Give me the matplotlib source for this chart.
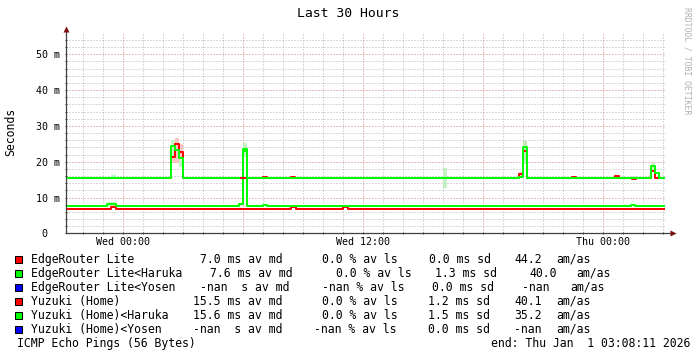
import numpy as np
import matplotlib
matplotlib.use('Agg')
import matplotlib.pyplot as plt
from matplotlib.ticker import MultipleLocator, FixedLocator, FixedFormatter
from matplotlib.patches import Rectangle

plt.rcParams['font.family'] = 'DejaVu Sans Mono'

# time axis in hours relative to Wed 00:00, values in ms
t_start, t_end = -2.864, 27.136
time_ticks = [0, 12, 24]
time_labels = ['Wed 00:00', 'Wed 12:00', 'Thu 00:00']
y_ticks = [0, 10, 20, 30, 40, 50]
y_labels = ['0  ', '10 m', '20 m', '30 m', '40 m', '50 m']

# median step lines (breakpoints / values)
erl_t = [-2.86, -0.6, -0.35, 8.4, 8.65, 11.0, 11.25, 27.03]
erl_v = [6.9, 7.4, 6.9, 7.4, 6.9, 7.4, 6.9, 6.9]

erl_har_t = [-2.86, -0.8, -0.35, 5.8, 6.0, 6.2, 7.0, 7.2, 25.4, 25.6, 27.03]
erl_har_v = [7.6, 8.2, 7.6, 8.2, 23.5, 7.6, 7.9, 7.6, 7.9, 7.6, 7.6]

yuz_t = [-2.86, 2.4, 2.6, 2.8, 3.0, 7.0, 7.2, 8.4, 8.6, 19.8, 20.0, 20.2,
         22.43, 22.65, 24.6, 24.8, 25.43, 25.64, 26.4, 26.6, 27.03]
yuz_v = [15.4, 21.3, 25.0, 22.6, 15.4, 15.6, 15.4, 15.7, 15.4, 16.5, 23.0, 15.4,
         15.6, 15.4, 15.95, 15.4, 15.1, 15.4, 17.4, 15.4, 15.4]

yuz_har_t = [-2.86, 2.4, 2.6, 2.8, 3.0, 5.8, 6.0, 6.2, 19.8, 20.0, 20.2,
             26.4, 26.6, 26.8, 27.03]
yuz_har_v = [15.4, 24.3, 23.4, 21.0, 15.4, np.nan, 23.0, 15.4, 15.8, 24.2, 15.4,
             18.7, 16.8, 15.4, 15.4]

# smoke (t0, t1, lo, hi)
red_smoke = [(2.4, 2.6, 19.5, 21.3), (2.6, 2.8, 19.7, 26.6), (2.8, 3.0, 20.5, 25.0),
             (19.8, 20.0, 16.0, 17.0), (20.0, 20.2, 20.2, 25.8), (-0.6, -0.35, 7.2, 7.8),
             (25.43, 25.64, 14.8, 15.9), (24.6, 24.8, 15.4, 16.2), (26.4, 26.6, 17.0, 18.0)]
green_smoke = [(2.4, 2.6, 21.4, 26.1), (2.8, 3.0, 18.6, 21.4), (6.0, 6.2, 21.4, 25.3),
               (16.0, 16.2, 12.6, 18.2), (-0.8, -0.35, 7.6, 8.8), (-0.6, -0.35, 15.4, 16.3),
               (20.0, 20.2, 19.3, 25.8), (26.4, 26.6, 17.5, 19.6), (25.4, 25.6, 15.0, 16.0)]

# legend
hosts = ['EdgeRouter Lite', 'EdgeRouter Lite<Haruka', 'EdgeRouter Lite<Yosen',
         'Yuzuki (Home)', 'Yuzuki (Home)<Haruka', 'Yuzuki (Home)<Yosen']
host_colors = ['#ff0000', '#00ff00', '#0000ff', '#ff0000', '#00ff00', '#0000ff']
median_txt = ['7.0 ms', '7.6 ms', '-nan  s', '15.5 ms', '15.6 ms', '-nan  s']
loss_txt = ['0.0', '0.0', '-nan', '0.0', '0.0', '-nan']
sd_txt = ['0.0 ms', '1.3 ms', '0.0 ms', '1.2 ms', '1.5 ms', '0.0 ms']
amas_txt = ['44.2', '40.0', '-nan', '40.1', '35.2', '-nan']

W, H = 697.0, 357.0
fig = plt.figure(figsize=(W / 100, H / 100), dpi=100)
fig.patch.set_facecolor('white')
ax = fig.add_axes((65.7 / W, (H - 233.3) / H, 600 / W, 200.3 / H))
ax.set_xlim(t_start, t_end)
ax.set_ylim(0, 200.3 / 3.58)

for spine in ['top', 'right', 'left', 'bottom']:
    ax.spines[spine].set_visible(False)

# grid: hour / 2 ms minor, 6 h / 10 ms major
minor_c, major_c = '#b4b4b4', '#d87c7c'
xt = list(np.arange(0, 25, 6))
ax.xaxis.set_major_locator(FixedLocator(xt))
ax.xaxis.set_major_formatter(FixedFormatter([time_labels[time_ticks.index(h)] if h in time_ticks else ''
                                             for h in xt]))
ax.xaxis.set_minor_locator(MultipleLocator(1))
ax.yaxis.set_minor_locator(MultipleLocator(2))
ax.set_yticks(y_ticks, labels=y_labels)
ax.grid(which='minor', color=minor_c, lw=0.72, ls=(0, (1, 2)))
ax.grid(which='major', color=major_c, lw=0.72, ls=(0, (1, 2)))
ax.set_axisbelow(True)

ax.tick_params(which='both', length=2, width=0.72, color='#404040', direction='inout',
               labelsize=7.2, pad=2)
ax.tick_params(axis='y', pad=3)

# smoke
ax.bar([s[0] for s in red_smoke], [s[3] - s[2] for s in red_smoke],
       width=[s[1] - s[0] for s in red_smoke], bottom=[s[2] for s in red_smoke],
       align='edge', color='#ffb4b4', alpha=0.75, lw=0, zorder=2)
ax.bar([s[0] for s in green_smoke], [s[3] - s[2] for s in green_smoke],
       width=[s[1] - s[0] for s in green_smoke], bottom=[s[2] for s in green_smoke],
       align='edge', color='#b4f0b4', alpha=0.75, lw=0, zorder=2)

# median lines
lw = 1.44
ax.step(erl_t, erl_v, where='post', color='#ff0000', lw=lw, zorder=3)
ax.step(erl_har_t, erl_har_v, where='post', color='#00ff00', lw=lw, zorder=3)
ax.step(yuz_t, yuz_v, where='post', color='#ff0000', lw=lw, zorder=3)
ax.step(yuz_har_t, yuz_har_v, where='post', color='#00ff00', lw=lw, zorder=4)

# axes with arrows
ax.plot([0, 1.012], [0, 0], transform=ax.transAxes, clip_on=False, color='#404040', lw=0.9, zorder=5)
ax.plot([0, 0], [0, 1.02], transform=ax.transAxes, clip_on=False, color='#404040', lw=0.9, zorder=5)
ax.plot([1.012], [0], transform=ax.transAxes, clip_on=False, marker='>', ms=5,
        color='#7a1010', mec='none', zorder=6)
ax.plot([0], [1.022], transform=ax.transAxes, clip_on=False, marker='^', ms=5,
        color='#7a1010', mec='none', zorder=6)

def fx(px):
    return px / W

def fy(py):
    return 1 - py / H

fig.text(fx(348), fy(17.3), 'Last 30 Hours', ha='center', va='baseline', fontsize=9.45)
fig.text(fx(10.5), fy(132), 'Seconds', rotation=90, ha='center', va='center', fontsize=8.3)
fig.text(fx(686.7), fy(60.5), 'RRDTOOL / TOBI OETIKER', rotation=270, ha='center', va='center',
         fontsize=5.9, color='#b0b0b0')

col_x = [
    [200, 321.7, 429, 514.3, 556.7],
    [210, 336, 435, 529, 576.7],
    [200, 321.7, 432.3, 522.3, 570],
    [193.3, 321.7, 428.3, 514.3, 556.7],
    [193.3, 321.7, 428.3, 514.3, 556.7],
    [193.3, 314.3, 428.3, 514.3, 556.7],
]
fs = 8.3
for i, host in enumerate(hosts):
    base = 263 + 14 * i
    fig.patches.append(Rectangle((fx(15.3), fy(base)), 7 / W, 7 / H, transform=fig.transFigure,
                                 facecolor=host_colors[i], edgecolor='black', lw=0.75))
    fig.text(fx(30.7), fy(base), host, va='baseline', fontsize=fs)
    cols = [median_txt[i] + ' av md', loss_txt[i] + ' % av ls', sd_txt[i] + ' sd',
            amas_txt[i], 'am/as']
    for x, s in zip(col_x[i], cols):
        fig.text(fx(x), fy(base), s, va='baseline', fontsize=fs)

fig.text(fx(16.7), fy(347), 'ICMP Echo Pings (56 Bytes)', va='baseline', fontsize=fs)
fig.text(fx(690), fy(347), 'end: Thu Jan  1 03:08:11 2026', va='baseline', ha='right', fontsize=fs)

fig.savefig('out.png', dpi=100)
